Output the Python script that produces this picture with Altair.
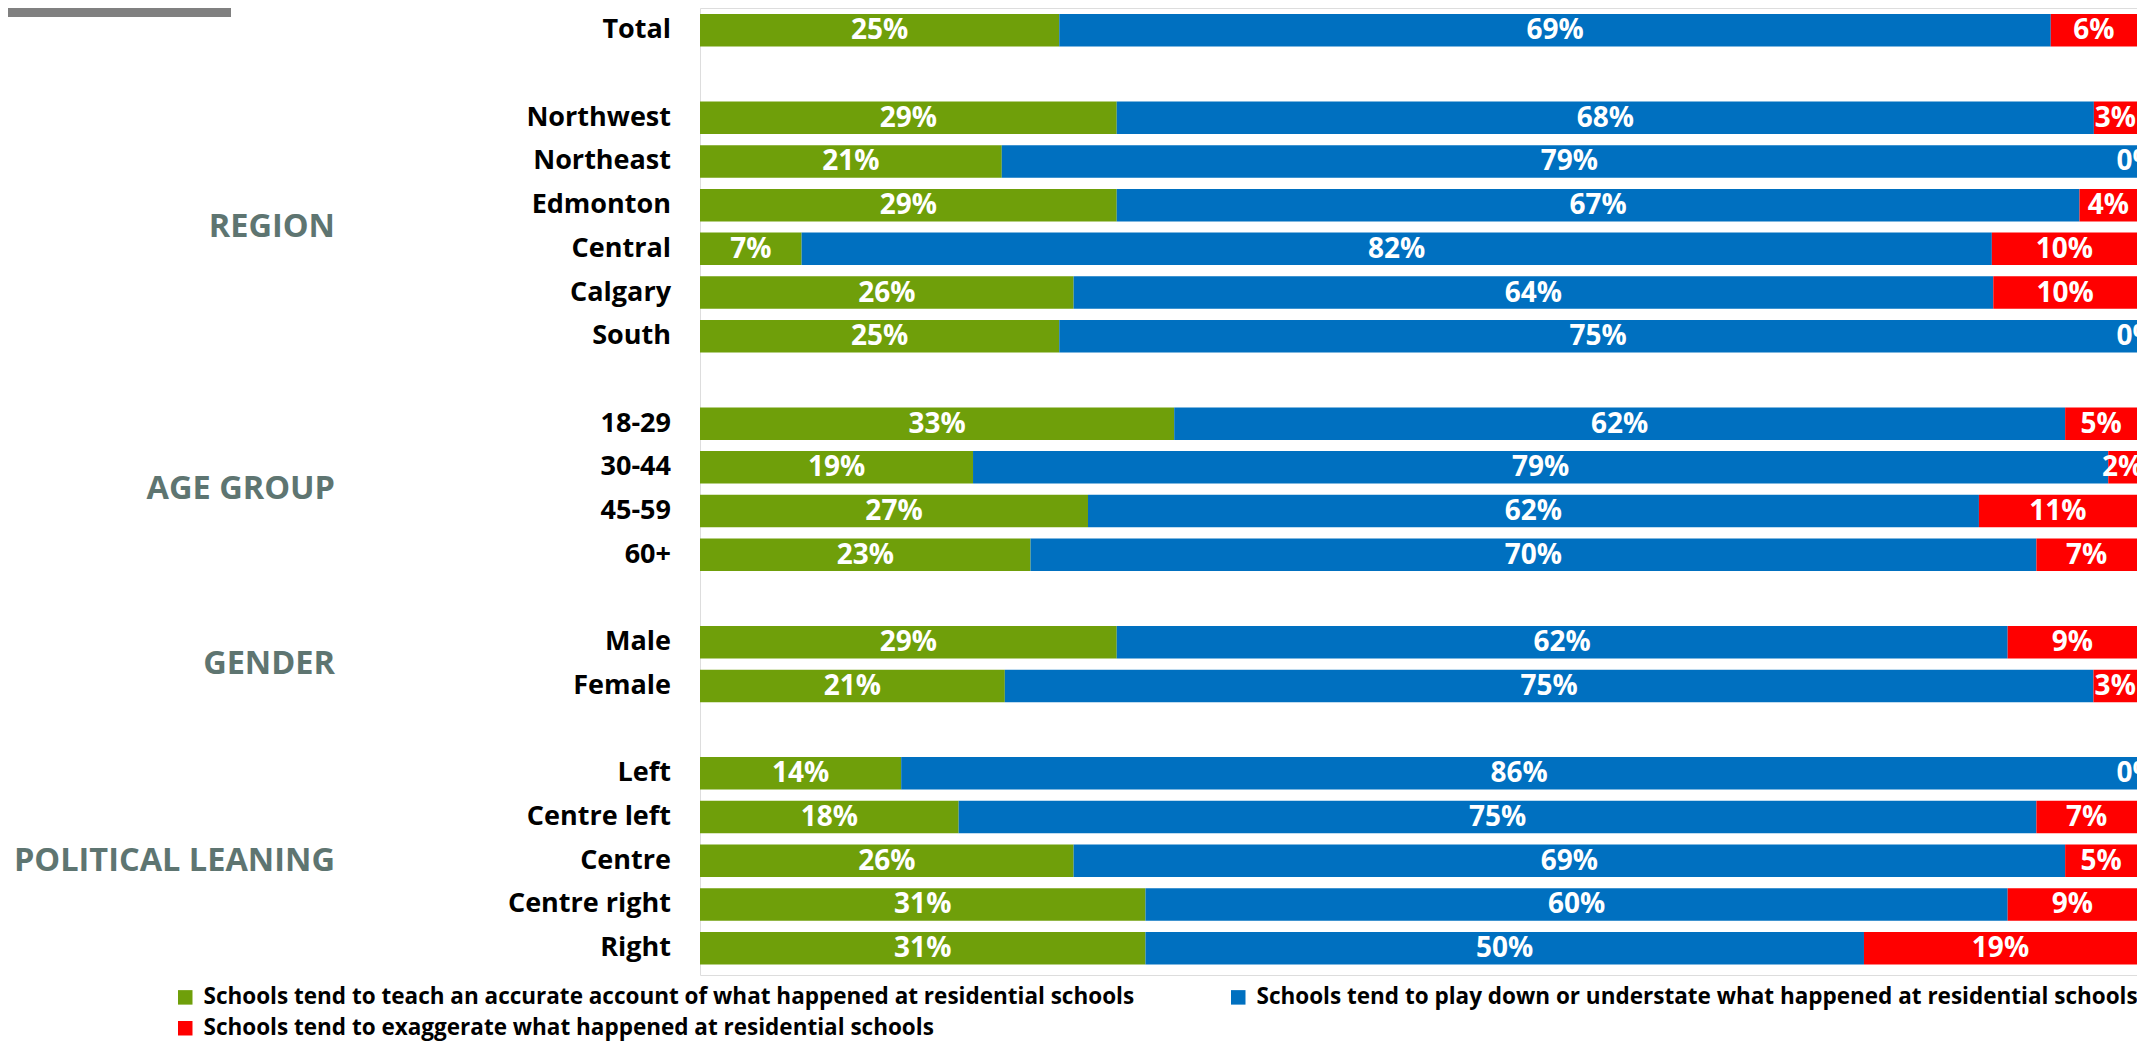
import altair as alt
import pandas as pd

# ---- data ----
group_names = ["", "REGION", "AGE GROUP", "GENDER", "POLITICAL LEANING"]
group_members = [
    ["Total"],
    ["Northwest", "Northeast", "Edmonton", "Central", "Calgary", "South"],
    ["18-29", "30-44", "45-59", "60+"],
    ["Male", "Female"],
    ["Left", "Centre left", "Centre", "Centre right", "Right"],
]
accurate = [25, 29, 21, 29, 7, 26, 25, 33, 19, 27, 23, 29, 21, 14, 18, 26, 31, 31]
playdown = [69, 68, 79, 67, 82, 64, 75, 62, 79, 62, 70, 62, 75, 86, 75, 69, 60, 50]
exaggerate = [6, 3, 0, 4, 10, 10, 0, 5, 2, 11, 7, 9, 3, 0, 7, 5, 9, 19]
series = [
    "Schools tend to teach an accurate account of what happened at residential schools",
    "Schools tend to play down or understate what happened at residential schools",
    "Schools tend to exaggerate what happened at residential schools",
]
colors = ["#6f9f0a", "#0070c0", "#ff0000"]

# ---- build tables ----
cats, rows, group_rows = [], [], []
r = 0
for g, members in zip(group_names, group_members):
    start = r
    for m in members:
        cats.append(m)
        rows.append(r)
        r += 1
    if g:
        group_rows.append({"group": g, "row": (start + r - 1) / 2})
    r += 1  # blank row between groups

records = []
for i, c in enumerate(cats):
    for k, vals in enumerate([accurate, playdown, exaggerate]):
        records.append({"cat": c, "row": rows[i], "series": series[k], "order": k,
                        "value": vals[i], "label": f"{vals[i]}%"})
df = pd.DataFrame(records)
cat_df = pd.DataFrame({"cat": cats, "row": rows})
grp_df = pd.DataFrame(group_rows)

W, H = 1437, 967
FONT = "Open Sans"
yscale = alt.Scale(domain=[-0.396, 21.5], reverse=True)
ycommon = alt.Y("row:Q", scale=yscale, axis=None)

base = alt.Chart(df).transform_stack(
    stack="value", groupby=["row"], as_=["v0", "v1"], offset="normalize",
    sort=[alt.SortField("order", "ascending")]
).transform_calculate(mid="(datum.v0 + datum.v1) / 2")

bars = base.mark_bar(size=32.5).encode(
    x=alt.X("v0:Q", scale=alt.Scale(domain=[0, 1], nice=False), axis=None),
    x2="v1:Q",
    y=ycommon,
    color=alt.Color(
        "series:N",
        scale=alt.Scale(domain=series, range=colors),
        sort=series,
        legend=alt.Legend(
            title=None, orient="none", legendX=-526, legendY=978,
            direction="horizontal", columns=2, columnPadding=92, rowPadding=8,
            symbolType="square", symbolSize=210, symbolStrokeWidth=0, symbolOffset=0,
            labelFont=FONT, labelFontSize=22.5, labelFontWeight="bold", labelColor="#000000",
            labelOffset=7, labelLimit=2000, padding=0,
        ),
    ),
)

values = base.mark_text(font=FONT, fontSize=28, fontWeight="bold", color="white",
                        align="center", baseline="middle", dy=1).encode(
    x=alt.X("mid:Q", scale=alt.Scale(domain=[0, 1], nice=False)),
    y=ycommon,
    text="label:N",
)

cat_labels = alt.Chart(cat_df).mark_text(font=FONT, fontSize=27, fontWeight="bold",
                                         color="#000000", align="right", baseline="middle").encode(
    x=alt.value(-29), y=ycommon, text="cat:N")

grp_labels = alt.Chart(grp_df).mark_text(font=FONT, fontSize=32.5, fontWeight="bold",
                                         color="#5e7571", align="right", baseline="middle").encode(
    x=alt.value(-365), y=ycommon, text="group:N")

topbar = alt.Chart(pd.DataFrame({"k": [0]})).mark_rect(color="#808080").encode(
    x=alt.value(-692), x2=alt.value(-469), y=alt.value(0), y2=alt.value(9))

chart = alt.layer(bars, values, cat_labels, grp_labels, topbar).properties(
    width=W, height=H,
    padding={"left": 692, "top": 0, "right": 0, "bottom": 66},
    autosize=alt.AutoSizeParams(type="none"),
).configure_view(stroke=None).configure(background="white")

chart.save("out.html", embed_options={"renderer": "svg", "actions": False})
